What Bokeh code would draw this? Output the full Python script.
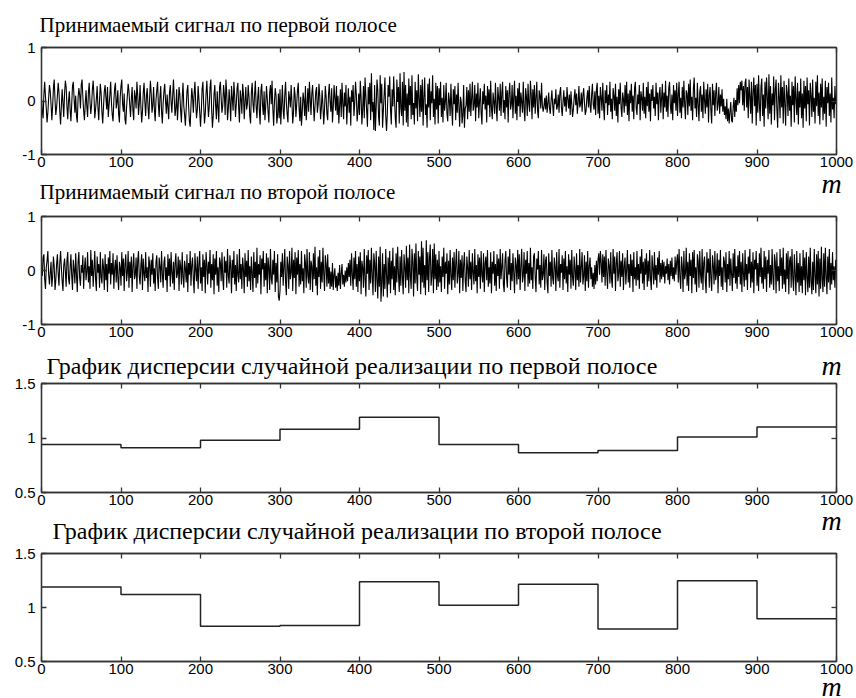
from bokeh.plotting import figure
from bokeh.layouts import column
from bokeh.models import Range1d, FixedTicker, LinearAxis, Title
from bokeh.embed import file_html
from bokeh.resources import INLINE

# ---- data (signal values in hundredths) ----
signal1_h = [
4,-18,-32,12,36,8,-14,-40,-22,6,30,18,-6,-36,-10,24,40,2,-26,-12,
10,34,16,-20,-44,-8,22,-4,-30,14,38,26,-10,-34,0,18,-16,-38,-6,28,
36,4,-22,10,-28,-40,6,24,12,-14,30,40,8,-18,-36,-6,20,-10,-30,16,
34,-2,-24,-8,22,38,10,-32,-16,4,28,-12,-36,2,32,14,-20,-42,-10,18,
30,6,-16,26,-30,-8,12,36,-4,-26,-38,0,24,34,-14,-2,20,-24,-40,8,
28,40,-6,-20,14,-34,-44,-12,10,32,18,-8,-30,4,26,-18,-36,20,8,-14,
36,12,-26,-4,30,-10,-40,-20,16,34,-2,-28,10,24,-12,-34,6,38,14,-22,
-8,26,-16,-38,2,20,36,-6,-30,8,28,-20,-42,-4,18,32,0,-24,12,-12,
-34,16,30,-2,-22,10,40,4,-28,-14,22,-36,-8,26,12,-18,-40,6,34,-10,
-26,-46,-14,18,30,-8,-38,-48,-10,24,8,-22,14,36,-4,-32,-16,28,4,-20,
-48,-20,22,36,-6,-42,-24,14,38,2,-30,-10,26,40,-14,-50,-28,12,30,-8,
-34,18,-12,-40,26,36,4,-22,-8,30,12,-26,40,16,-36,-14,22,-2,-38,28,
6,-18,36,10,-30,-6,24,34,-12,-40,20,4,-24,32,14,-34,-2,26,-16,-6,
30,8,-28,-42,16,34,-4,-22,12,38,-10,-32,6,26,-18,-44,20,32,-8,-26,
18,-36,-10,28,4,-20,-40,16,30,-6,38,-14,-46,-2,24,10,-42,-26,14,-32,
22,-44,-8,30,-18,-34,12,36,-4,-24,-40,18,6,-12,30,-2,-42,-22,26,10,
-30,-6,20,34,-14,-38,8,-46,-20,16,2,-28,28,-36,-10,24,-20,36,4,-26,
14,30,-4,-38,-10,18,26,-22,-6,32,10,-34,-14,20,-8,-44,-16,28,8,-24,
-36,12,32,-2,-20,24,-40,-12,30,6,-18,28,-26,10,-42,-8,22,-30,34,-4,
-34,16,-10,30,-44,-6,24,-22,8,-46,20,-2,30,-28,-4,36,12,-38,-20,14,
-26,38,8,-44,-14,28,-32,44,10,-18,-48,26,-6,34,-36,52,-20,-2,-54,30,
-56,-12,40,20,-30,-46,48,-4,32,-50,-18,12,44,-28,-56,-24,30,8,46,-16,
-44,22,-10,46,4,-32,-50,40,-2,26,-42,52,-14,-28,36,-46,54,-18,30,-40,
14,-48,42,-8,28,-34,48,-26,-4,-44,36,-14,20,-38,50,6,-30,30,-20,40,
-46,8,44,-26,-6,-50,32,-12,42,-36,18,-4,48,-30,4,-44,34,-16,28,-42,
24,-8,36,-30,6,-40,30,-18,-2,34,-24,-38,16,2,-28,32,-12,-46,22,-6,
28,-36,12,-22,34,-10,-48,8,-2,-42,-26,30,-50,-14,-8,26,-34,20,-20,32,
-28,4,36,-18,-8,30,-38,14,-12,34,-32,0,24,-22,-44,18,-6,32,-16,10,
-40,28,-8,22,-30,38,-14,-34,16,-2,-24,34,-10,-38,26,6,-18,32,-28,14,
36,-22,2,-34,28,-12,20,-40,14,34,-16,-6,30,-32,8,38,-24,10,-36,24,
-10,34,-30,16,-2,-22,36,-14,-38,24,8,-28,32,-6,-20,38,12,-34,22,-12,
30,-24,6,36,-18,-32,20,10,-14,34,-8,-20,-10,6,-16,10,-22,-4,16,-14,
-24,2,20,-8,-28,4,-6,22,-16,-10,12,-22,16,26,-12,-28,-2,20,-10,8,
-20,26,4,-14,12,-26,18,-6,-30,-16,6,22,-8,14,-24,-2,28,-12,-6,16,
-20,10,24,-4,-26,-18,6,20,-12,28,-8,-22,12,32,-6,-16,18,-26,22,34,
-24,10,-32,26,6,-18,34,-10,-36,20,-4,30,-26,12,-8,36,-20,4,-34,24,
10,-18,32,-28,8,-40,22,-6,34,-12,-30,16,4,-22,30,-10,36,-26,14,-38,
20,-4,32,-20,10,-34,24,36,-12,-26,12,-6,30,-36,18,6,-18,34,-24,8,
-32,26,-10,36,-20,14,-38,22,0,30,-14,8,-28,34,-6,16,-36,12,26,-22,
6,32,-34,16,-12,38,-20,10,-30,24,36,-8,-24,12,-36,30,-4,20,-18,34,
-28,12,36,-22,6,-32,26,-12,38,-6,-34,20,14,-26,32,-10,40,-18,8,-36,
24,44,-14,6,-30,34,-6,-38,16,28,-20,12,-32,36,2,-24,22,-12,32,-40,
10,26,-18,-42,32,-8,20,-28,14,34,-18,-6,26,-24,12,-10,22,-20,4,-26,
-10,-34,4,-38,-14,-42,-20,-2,-36,-40,-12,6,-30,2,-20,24,-8,30,-4,36,
20,38,-8,28,-18,34,42,-12,26,-32,40,8,-24,36,-42,16,44,-10,30,-46,
32,-22,48,-6,-38,26,42,-28,12,-48,36,-14,44,6,-34,50,-24,28,-44,14,
-8,46,-36,20,40,-16,-50,34,8,-32,48,-12,26,-42,38,-4,-46,30,16,-28,
42,-18,10,-48,36,-8,28,-40,46,4,-26,34,-44,18,-12,42,-32,14,-50,38,
-14,28,-38,44,-6,20,-46,34,10,-30,40,-20,6,-42,36,-10,48,-28,16,-44,
32,-12,42,-36,8,-24,38,-48,26,-4,34,-28,14,-40,44,-16,6,-32,28,-6,
]

signal2_h = [
2,-10,24,30,-16,-34,6,18,36,-8,-26,-4,16,-30,-12,26,8,-36,-18,12,
30,-6,-28,14,36,4,-20,-38,10,22,-2,-30,18,34,-14,-26,6,30,-10,-36,
20,2,-24,32,-8,-40,16,34,-14,-28,10,-4,28,-34,4,24,-18,-2,34,-22,
8,-34,38,-10,20,-30,2,36,-16,-38,26,-4,12,-32,34,-12,-24,22,6,-36,
30,-18,12,-40,24,-6,36,-26,14,-8,32,-34,4,20,-22,28,-12,-36,16,6,
-28,34,-10,22,-38,12,30,-20,-4,36,-32,16,-14,26,-40,8,32,-16,-8,24,
-34,18,36,-12,-26,10,30,-36,22,-6,-20,34,-14,6,-40,26,12,-30,20,-8,
32,-24,4,-38,16,28,-14,-34,24,8,-22,36,-6,-32,14,26,-18,6,-40,30,
-10,22,-30,34,-4,-24,16,-36,12,32,-14,-6,26,-38,20,8,-26,34,-12,-32,
18,4,-22,30,-40,14,-8,36,-28,10,24,-16,-42,32,2,-20,26,-34,12,36,
-24,6,-38,30,-12,20,-42,34,10,-26,16,-6,38,-32,12,-18,30,-44,22,-8,
36,-28,6,-40,24,14,-20,34,-14,-36,26,-4,18,-32,40,-10,-24,28,8,-42,
20,-14,36,-26,10,-38,30,-8,-22,40,-16,12,-34,24,4,-42,32,-12,18,-30,
38,-20,8,-36,26,-6,-40,34,-14,16,-32,42,-24,12,-8,28,-44,22,2,36,
-30,14,-18,32,-42,24,6,-36,40,-14,-26,20,-8,36,-40,14,-22,30,-48,-56,
-38,16,-12,32,-28,6,40,-22,-46,26,10,-34,36,-16,-4,42,-38,20,-14,34,
-44,24,-8,38,-30,12,-26,36,-20,4,-42,30,14,-32,40,-10,-24,34,-36,18,
8,-40,32,-16,44,-28,6,-46,26,-12,38,-34,16,-22,42,-6,-38,28,12,-30,
30,-24,6,-34,-2,-30,14,-36,-8,4,-32,-10,-38,-4,-28,10,-34,-6,12,-26,
-8,-30,0,-22,6,-20,14,-12,20,-28,32,-8,-36,24,-16,36,-30,12,-40,26,
-20,34,-44,18,6,-32,40,-14,-48,28,-6,38,-36,20,-24,42,-10,-46,32,14,
-40,36,-18,-52,26,-30,44,-58,-22,32,-48,12,-34,40,-8,-50,24,-26,36,-42,
18,-16,42,-36,8,-46,32,-22,44,-6,-40,26,-28,38,-12,-44,30,6,-32,46,
-18,24,-42,48,-10,-34,40,16,-48,32,-24,50,-14,-38,36,-8,26,-44,54,-22,
42,-32,10,-46,56,-18,34,-40,22,48,-28,-10,40,-42,50,-16,30,-36,20,-30,
36,-22,8,-40,26,-12,42,-34,16,-6,32,-44,18,-26,38,-10,-36,24,-18,34,
-32,12,40,-24,-8,36,-42,20,-14,28,-38,10,34,-20,-40,26,6,-30,38,-16,
16,-36,32,-4,-26,40,-20,10,-42,30,-12,24,-34,36,-8,-22,32,-40,14,26,
-18,38,-30,6,-24,34,-42,16,-6,36,-28,12,-38,30,-10,22,-34,40,-16,6,
32,-26,-40,18,36,-14,-32,26,-8,40,-36,14,-20,32,-4,-42,24,10,-26,38,
-16,30,-36,8,40,-22,-10,34,-38,20,-6,36,-30,14,-24,42,-18,6,-34,26,
32,-12,-40,22,2,36,-26,10,-32,38,-18,-8,30,-36,18,26,-22,-42,32,-10,
16,-30,38,-14,-26,24,8,-38,34,-10,-20,40,-32,12,-4,28,-36,22,-16,36,
-24,8,-40,30,-8,20,-34,38,-14,-28,26,2,-36,32,-18,10,-30,40,-22,6,
34,-26,-10,28,-38,16,-20,36,-32,8,24,-16,6,-30,-4,-34,10,-26,18,-20,
20,32,-8,36,16,-22,30,-12,26,-28,38,-4,-34,22,10,-24,34,-16,-32,40,
-6,26,-38,14,34,-20,-6,36,-30,18,-12,32,-36,8,24,-26,2,38,-22,12,
-32,30,-10,20,-40,34,-16,6,-28,36,-18,12,-34,26,-6,40,-24,16,-36,22,
-8,32,-30,18,-20,38,-14,-36,28,4,-26,34,-18,10,-32,24,-8,36,-22,14,
-16,20,-12,16,-24,8,-6,22,-18,12,-26,18,-10,24,-16,6,-20,26,-8,16,
30,-22,40,-12,-34,26,8,-40,36,-16,-6,42,-28,16,-38,32,-10,20,-42,34,
-14,38,-26,6,-40,30,18,-32,36,-8,-24,40,-36,14,26,-20,-42,34,-4,22,
-32,40,-14,-38,28,10,-26,36,-18,-6,32,-42,20,-10,38,-30,6,-36,26,16,
-22,34,-40,12,-16,36,-28,22,-6,-38,32,-14,40,-24,8,-34,28,-12,36,-26,
16,-40,32,-8,-30,38,-18,12,-36,26,-6,40,-32,16,-22,34,-42,20,2,36,
-28,14,-38,32,-12,42,-24,6,-34,36,-16,26,-40,20,-6,38,-32,10,-26,40,
-14,-36,30,16,-42,34,-20,8,-38,40,-10,24,-34,42,-26,2,-40,32,-16,36,
-44,18,26,-32,40,-14,-38,30,-6,-46,36,-22,14,-40,32,-28,8,-42,38,-18,
24,-46,34,-12,-40,26,-32,42,-20,-44,16,-36,40,-8,-42,30,-26,36,-48,22,
-34,44,-16,-40,32,-30,42,-10,-44,26,-22,40,-36,14,-26,34,-18,8,-32,20,
]

block_edges = [0, 100, 200, 300, 400, 500, 600, 700, 800, 900, 1000]
variance1 = [0.94, 0.91, 0.98, 1.08, 1.19, 0.94, 0.865, 0.886, 1.01, 1.10]
variance2 = [1.19, 1.12, 0.827, 0.833, 1.238, 1.02, 1.216, 0.80, 1.247, 0.895]

titles = [
    "Принимаемый сигнал по первой полосе",
    "Принимаемый сигнал по второй полосе",
    "График дисперсии случайной реализации по первой полосе",
    "График дисперсии случайной реализации по второй полосе",
]
x_ticks = [0, 100, 200, 300, 400, 500, 600, 700, 800, 900, 1000]
sig_ticks = [-1, 0, 1]
sig_tick_labels = {-1: "-1", 0: "0", 1: "1"}
var_ticks = [0.5, 1, 1.5]
var_tick_labels = {0.5: "0.5", 1: "1", 1.5: "1.5"}
axis_name = "m"
axis_name_pos = 994

FRAME_C = "#333333"
TICK_FONT = "Liberation Sans"
SERIF = "Liberation Serif"


def style(ax, labels=True):
    ax.axis_line_color = FRAME_C
    ax.axis_line_width = 1.3
    ax.major_tick_in = 5
    ax.major_tick_out = 0
    ax.minor_tick_line_color = None
    ax.major_tick_line_color = FRAME_C
    ax.major_tick_line_width = 1.3
    ax.major_label_text_font = TICK_FONT
    ax.major_label_text_font_size = "15px" if labels else "0px"
    ax.major_label_text_color = "black"
    ax.major_label_standoff = 2 if labels else 0


def name_axis(standoff):
    # an axis with a single labelled position that carries the italic "m"
    ax = LinearAxis(ticker=FixedTicker(ticks=[axis_name_pos]),
                    major_label_overrides={axis_name_pos: axis_name})
    ax.axis_line_color = None
    ax.major_tick_line_color = None
    ax.minor_tick_line_color = None
    ax.major_tick_in = 0
    ax.major_tick_out = 0
    ax.major_label_text_font = SERIF
    ax.major_label_text_font_style = "italic"
    ax.major_label_text_font_size = "28px"
    ax.major_label_text_color = "black"
    ax.major_label_standoff = standoff
    return ax


def make_panel(top, frame_h, bottom, y0, y1, yticks, ylabels, mid_tick,
               m_below=None, m_above=None):
    p = figure(frame_width=795, frame_height=frame_h,
               min_border_left=41, min_border_right=20,
               min_border_top=top, min_border_bottom=bottom,
               x_range=Range1d(0, 1000), y_range=Range1d(y0, y1),
               output_backend="svg", toolbar_location=None,
               x_axis_type=None, y_axis_type=None, title_location=None)
    p.grid.visible = False
    p.outline_line_color = FRAME_C
    p.outline_line_width = 1.3
    p.background_fill_color = "white"
    p.border_fill_color = "white"

    xb = LinearAxis(ticker=FixedTicker(ticks=x_ticks))
    style(xb)
    p.add_layout(xb, "below")
    if m_below is not None:
        p.add_layout(name_axis(m_below), "below")
    xt = LinearAxis(ticker=FixedTicker(ticks=x_ticks))
    style(xt, labels=False)
    p.add_layout(xt, "above")
    if m_above is not None:
        p.add_layout(name_axis(m_above), "above")
    yl = LinearAxis(ticker=FixedTicker(ticks=yticks), major_label_overrides=ylabels)
    style(yl)
    yl.major_label_standoff = 6
    p.add_layout(yl, "left")
    yr = LinearAxis(ticker=FixedTicker(ticks=[mid_tick]))
    style(yr, labels=False)
    p.add_layout(yr, "right")
    return p


def add_title(p, text, size, offset, standoff, side, valign):
    t = Title(text=text, text_font=SERIF, text_font_size=size, text_font_style="normal",
              text_color="black", align="left", offset=offset, standoff=standoff,
              vertical_align=valign)
    p.add_layout(t, side)


# axis name "m" of panel 1 sits under panel 1, of panel 2 above panel 3, etc.
p1 = make_panel(47, 107, 53, -1, 1, sig_ticks, sig_tick_labels, 0, m_below=-2)
p2 = make_panel(9, 108, 21, -1, 1, sig_ticks, sig_tick_labels, 0)
p3 = make_panel(38, 109, 52, 0.5, 1.5, var_ticks, var_tick_labels, 1, m_above=3, m_below=-3)
p4 = make_panel(9, 108, 37, 0.5, 1.5, var_ticks, var_tick_labels, 1, m_below=-6)

add_title(p1, titles[0], "21px", -2, 21, "above", "bottom")
add_title(p1, titles[1], "21px", -2, -43, "below", "top")
add_title(p3, titles[2], "24px", 5, -64, "above", "bottom")
add_title(p3, titles[3], "24px", 11, -42, "below", "top")

m1 = list(range(len(signal1_h)))
m2 = list(range(len(signal2_h)))
p1.line(m1, [v / 100 for v in signal1_h], line_color="#000000", line_width=1.1)
p2.line(m2, [v / 100 for v in signal2_h], line_color="#000000", line_width=1.1)

p3.step(block_edges, variance1 + [variance1[-1]], mode="after", line_color="#222222", line_width=1.5)
p4.step(block_edges, variance2 + [variance2[-1]], mode="after", line_color="#222222", line_width=1.5)

layout = column(p1, p2, p3, p4, spacing=0)
open("out.html", "w").write(file_html(layout, INLINE))
